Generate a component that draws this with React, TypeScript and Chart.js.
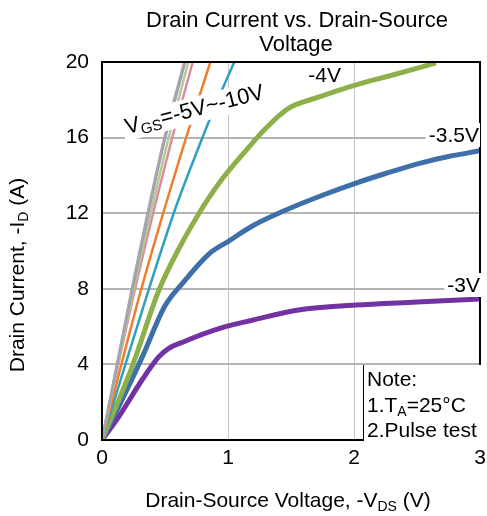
import React, { useEffect, useRef } from "react";
import { Chart, registerables } from "chart.js";

Chart.register(...registerables);

// ---- data ----
const xTicks = [0, 1, 2, 3];
const yTicks = [0, 4, 8, 12, 16, 20];

const steepY = [0, 7.94, 15.34, 20];
const grayX = [0, 0.235, 0.472, 0.652];
const lavenderX = [0, 0.24, 0.479, 0.66];
const lightGreenX = [0, 0.25, 0.505, 0.685];
const pinkX = [0, 0.26, 0.532, 0.72];
const orangeX = [0, 0.31, 0.637, 0.86];
const tealX = [0, 0.2, 0.37, 0.585, 0.75, 0.9, 1.05];
const tealY = [0, 4.3, 7.94, 12.3, 15.2, 17.7, 20];

const v4X = [0, 0.24, 0.45, 0.6, 0.77, 0.93, 1.14, 1.3, 1.48, 1.7, 2.01, 2.3, 2.65];
const v4Y = [0, 3.9, 7.9, 10.0, 12.0, 13.6, 15.3, 16.5, 17.55, 18.1, 18.78, 19.3, 19.95];

const v35X = [0, 0.15, 0.32, 0.5, 0.64, 0.85, 1.0, 1.2, 1.46, 1.75, 2.01, 2.25, 2.52, 2.75, 3.0];
const v35Y = [0, 2.0, 4.4, 7.1, 8.3, 9.85, 10.5, 11.35, 12.17, 12.95, 13.58, 14.1, 14.64, 15.0, 15.3];

const v3X = [0, 0.135, 0.32, 0.45, 0.53, 0.65, 0.8, 0.98, 1.2, 1.56, 2.01, 2.5, 3.0];
const v3Y = [0, 1.25, 3.2, 4.4, 4.85, 5.2, 5.6, 6.0, 6.35, 6.88, 7.14, 7.3, 7.46];

const FONT = "'Liberation Sans', Arial, sans-serif";

function pts(xs: number[], ys: number[]) {
  return xs.map((x, i) => ({ x, y: ys[i] }));
}

type Seg = { t: string; sub?: boolean };

function drawSegs(ctx: CanvasRenderingContext2D, segs: Seg[], x: number, y: number, size: number, align: "left" | "center" | "right") {
  const subSize = Math.round(size * 0.68);
  const widths = segs.map((s) => {
    ctx.font = `${s.sub ? subSize : size}px ${FONT}`;
    return ctx.measureText(s.t).width;
  });
  const total = widths.reduce((a, b) => a + b, 0);
  let cx = align === "left" ? x : align === "center" ? x - total / 2 : x - total;
  ctx.textBaseline = "alphabetic";
  ctx.textAlign = "left";
  segs.forEach((s, i) => {
    ctx.font = `${s.sub ? subSize : size}px ${FONT}`;
    ctx.fillText(s.t, cx, s.sub ? y + size * 0.18 : y);
    cx += widths[i];
  });
  return total;
}

function measureSegs(ctx: CanvasRenderingContext2D, segs: Seg[], size: number) {
  const subSize = Math.round(size * 0.68);
  let w = 0;
  segs.forEach((s) => {
    ctx.font = `${s.sub ? subSize : size}px ${FONT}`;
    w += ctx.measureText(s.t).width;
  });
  return w;
}

const decor = {
  id: "decor",
  afterDatasetsDraw(chart: any) {
    const { ctx, chartArea: a } = chart;
    ctx.save();
    // plot border
    ctx.strokeStyle = "#000";
    ctx.lineWidth = 2;
    ctx.strokeRect(a.left, a.top, a.right - a.left, a.bottom - a.top);

    ctx.fillStyle = "#000";
    // curve labels with white bg
    const lbl = (text: string, xr: number, yc: number) => {
      ctx.font = `21px ${FONT}`;
      const w = ctx.measureText(text).width;
      ctx.fillStyle = "#fff";
      ctx.fillRect(xr - w - 3, yc - 12, w + 4, 24);
      ctx.fillStyle = "#000";
      ctx.textAlign = "right";
      ctx.textBaseline = "middle";
      ctx.fillText(text, xr, yc + 1);
    };
    lbl("-4V", 341, 75);
    lbl("-3.5V", 479, 135);
    lbl("-3V", 480, 285);

    // VGS rotated label
    ctx.save();
    ctx.translate(127, 134);
    ctx.rotate((-14.5 * Math.PI) / 180);
    const vsegs: Seg[] = [{ t: "V" }, { t: "GS", sub: true }, { t: "=-5V~-10V" }];
    const vw = measureSegs(ctx, vsegs, 22);
    ctx.fillStyle = "#fff";
    ctx.fillRect(-3, -19, vw + 5, 26);
    ctx.fillStyle = "#000";
    drawSegs(ctx, vsegs, 0, 0, 22, "left");
    ctx.restore();

    // note box
    ctx.fillStyle = "#fff";
    ctx.fillRect(363, 365, 124, 76);
    ctx.strokeStyle = "#000";
    ctx.lineWidth = 1;
    ctx.beginPath();
    ctx.moveTo(363.5, 365);
    ctx.lineTo(363.5, 441);
    ctx.stroke();
    ctx.fillStyle = "#000";
    drawSegs(ctx, [{ t: "Note:" }], 367, 386, 21, "left");
    drawSegs(ctx, [{ t: "1.T" }, { t: "A", sub: true }, { t: "=25°C" }], 367, 412, 21, "left");
    drawSegs(ctx, [{ t: "2.Pulse test" }], 367, 437, 21, "left");

    // title
    ctx.textAlign = "center";
    ctx.textBaseline = "middle";
    ctx.font = `22px ${FONT}`;
    ctx.fillText("Drain Current vs. Drain-Source", 297, 21);
    ctx.fillText("Voltage", 296, 45);

    // x title
    drawSegs(ctx, [{ t: "Drain-Source Voltage, -V" }, { t: "DS", sub: true }, { t: " (V)" }], 288, 507, 21, "center");

    // y title
    ctx.save();
    ctx.translate(24, 275);
    ctx.rotate(-Math.PI / 2);
    drawSegs(ctx, [{ t: "Drain Current, -I" }, { t: "D", sub: true }, { t: " (A)" }], 0, 0, 21, "center");
    ctx.restore();

    ctx.restore();
  },
};

export default function App() {
  const ref = useRef<HTMLCanvasElement>(null);
  useEffect(() => {
    document.body.style.margin = "0";
    const steep = (xs: number[], ys: number[], color: string) => ({
      data: pts(xs, ys),
      borderColor: color,
      borderWidth: 2.5,
    });
    const thick = (xs: number[], ys: number[], color: string) => ({
      data: pts(xs, ys),
      borderColor: color,
      borderWidth: 5,
    });
    const chart = new Chart(ref.current!, {
      type: "scatter",
      data: {
        datasets: [
          steep(grayX, steepY, "#a6a6a6"),
          steep(lavenderX, steepY, "#a792cc"),
          steep(lightGreenX, steepY, "#b0cc8e"),
          steep(pinkX, steepY, "#d98e9e"),
          steep(orangeX, steepY, "#ec7f2e"),
          steep(tealX, tealY, "#2fa0bf"),
          thick(v4X, v4Y, "#8db04a"),
          thick(v35X, v35Y, "#3f6fa8"),
          thick(v3X, v3Y, "#7232a2"),
        ].map((d) => ({
          ...d,
          showLine: true,
          pointRadius: 0,
          cubicInterpolationMode: "monotone" as const,
        })) as any,
      },
      options: {
        animation: false,
        responsive: false,
        maintainAspectRatio: false,
        layout: { padding: { top: 62, right: 7, left: 0, bottom: 0 } },
        plugins: { legend: { display: false }, tooltip: { enabled: false }, title: { display: false } },
        scales: {
          x: {
            type: "linear",
            min: 0,
            max: 3,
            afterBuildTicks: (s: any) => {
              s.ticks = xTicks.map((v) => ({ value: v }));
            },
            afterFit: (s: any) => {
              s.height = 76;
              s.paddingLeft = 0;
              s.paddingRight = 0;
            },
            ticks: { color: "#000", font: { size: 21, family: FONT }, padding: 6, maxRotation: 0 },
            grid: { color: "#c4c4c4", lineWidth: 1, drawTicks: false },
            border: { display: false },
          },
          y: {
            type: "linear",
            min: 0,
            max: 20,
            afterBuildTicks: (s: any) => {
              s.ticks = yTicks.map((v) => ({ value: v }));
            },
            afterFit: (s: any) => {
              s.width = 102;
            },
            ticks: { color: "#000", font: { size: 21, family: FONT }, padding: 13 },
            grid: { color: "#b4b4b4", lineWidth: 2, drawTicks: false },
            border: { display: false },
          },
        },
      },
      plugins: [decor],
    });
    return () => chart.destroy();
  }, []);
  return <canvas ref={ref} width={487} height={516} style={{ display: "block" }} />;
}
